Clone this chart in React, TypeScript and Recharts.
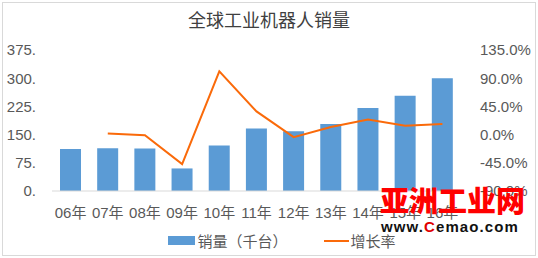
import React from "react";
import {
  ComposedChart,
  Bar,
  Line,
  XAxis,
  YAxis,
  Legend,
} from "recharts";

const years = ["06年", "07年", "08年", "09年", "10年", "11年", "12年", "13年", "14年", "15年", "16年"];
const sales = [112, 114, 113, 60, 121, 166, 159, 178, 221, 253, 300];
const growth = [null, 1.8, -1, -47, 101, 37, -4, 12, 24, 14, 17];
const leftTicks = [0, 75, 150, 225, 300, 375];
const rightTicks = [-90, -45, 0, 45, 90, 135];

const data = years.map((year, i) => ({ year, sales: sales[i], growth: growth[i] }));

const FONT = "'Liberation Sans', 'Noto Sans CJK SC', sans-serif";
const TEXT = "#595959";
const BAR = "#5B9BD5";
const LINE = "#FA6A0A";

function LegendContent() {
  return (
    <div
      style={{
        display: "flex",
        justifyContent: "center",
        alignItems: "center",
        fontFamily: FONT,
        fontSize: 15,
        color: TEXT,
        paddingLeft: 26,
      }}
    >
      <span style={{ display: "inline-block", width: 27, height: 9, background: BAR, marginRight: 2 }} />
      <span>销量（千台）</span>
      <span style={{ display: "inline-block", width: 25, height: 2, background: LINE, marginLeft: 36, marginRight: 2 }} />
      <span>增长率</span>
    </div>
  );
}

export default function App() {
  return (
    <div style={{ position: "absolute", left: 0, top: 0, width: 538, height: 258, background: "#fff" }}>
      <div
        style={{
          position: "absolute",
          left: 2,
          top: 2,
          width: 532,
          height: 252,
          border: "1px solid #D9D9D9",
        }}
      />
      <div
        style={{
          position: "absolute",
          top: 6,
          width: 538,
          textAlign: "center",
          fontFamily: "'Noto Sans CJK SC', sans-serif",
          fontSize: 18,
          color: "#404040",
        }}
      >
        全球工业机器人销量
      </div>
      <ComposedChart
        width={538}
        height={258}
        data={data}
        margin={{ top: 50, right: 0, bottom: 4, left: 0 }}
        barCategoryGap={0}
      >
        <XAxis
          dataKey="year"
          axisLine={{ stroke: "#D9D9D9" }}
          tickLine={false}
          tickMargin={10}
          height={39}
          interval={0}
          tick={{ fill: TEXT, fontSize: 15, fontFamily: FONT }}
        />
        <YAxis
          yAxisId="left"
          width={52}
          domain={[0, 375]}
          ticks={leftTicks}
          tickFormatter={(v) => `${v}.`}
          axisLine={false}
          tickLine={false}
          tickMargin={10}
          tick={{ fill: TEXT, fontSize: 15, fontFamily: FONT }}
        />
        <YAxis
          yAxisId="right"
          orientation="right"
          width={77}
          domain={[-90, 135]}
          ticks={rightTicks}
          tickFormatter={(v) => `${v.toFixed(1)}%`}
          axisLine={false}
          tickLine={false}
          tickMargin={13}
          tick={{ fill: TEXT, fontSize: 15, fontFamily: FONT, textAnchor: "start" }}
        />
        <Legend verticalAlign="bottom" height={24} content={<LegendContent />} />
        <Bar yAxisId="left" dataKey="sales" fill={BAR} barSize={21} isAnimationActive={false} />
        <Line
          yAxisId="right"
          dataKey="growth"
          type="linear"
          stroke={LINE}
          strokeWidth={2}
          dot={false}
          connectNulls={false}
          isAnimationActive={false}
        />
      </ComposedChart>
      <div
        style={{
          position: "absolute",
          left: 380,
          top: 181,
          fontFamily: "'Noto Sans CJK SC', sans-serif",
          fontWeight: 900,
          fontSize: 29,
          color: "#FF0000",
          letterSpacing: 0,
          lineHeight: "36px",
        }}
      >
        亚洲工业网
      </div>
      <div
        style={{
          position: "absolute",
          left: 381,
          top: 218,
          fontFamily: "'Liberation Sans', sans-serif",
          fontWeight: 700,
          fontSize: 15,
          color: "#111",
          letterSpacing: 1.1,
          lineHeight: "18px",
        }}
      >
        www.<span style={{ color: "#E00000" }}>C</span>emao.com
      </div>
    </div>
  );
}
